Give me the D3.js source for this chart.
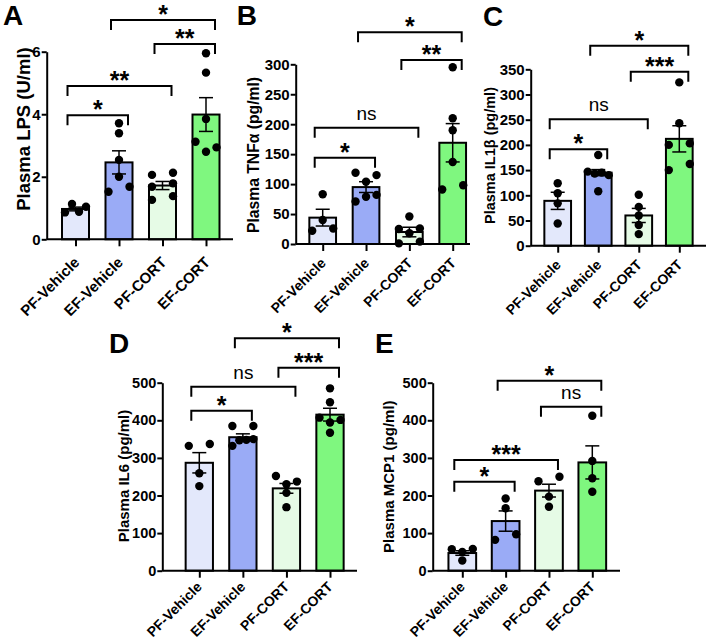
<!DOCTYPE html>
<html>
<head>
<meta charset="utf-8">
<script src="https://cdn.jsdelivr.net/npm/d3@7/dist/d3.min.js"></script>
<style>
  html, body { margin: 0; padding: 0; background: #fff; }
  svg { display: block; font-family: "Liberation Sans", Arial, Helvetica, sans-serif; }
</style>
</head>
<body>
<svg id="chart" width="708" height="644"></svg>
<script>
// ---------------- DATA ----------------
const categories = ["PF-Vehicle", "EF-Vehicle", "PF-CORT", "EF-CORT"];

const lpsMean = [0.97, 2.46, 1.72, 3.99];
const lpsSem = [0.06, 0.37, 0.13, 0.54];
const lpsPoints = [[0.86, 1.13, 0.88, 1.04], [3.71, 3.39, 2.54, 2.0, 1.52, 1.68], [2.06, 2.13, 1.68, 1.79, 1.26, 1.38], [5.95, 5.33, 3.85, 3.12, 2.8, 2.94]];
const lpsTicks = [0, 2, 4, 6];
const lpsSig = [[1, 3, "*"], [2, 3, "**"], [0, 2, "**"], [0, 1, "*"]];

const tnfMean = [44, 95, 20, 169];
const tnfSem = [14, 9, 8, 32];
const tnfPoints = [[83, 40, 22, 26], [119, 104, 115, 71, 79, 82], [46, 25, 18, 26, 1, 4], [295, 210, 190, 137, 91, 98]];
const tnfTicks = [0, 50, 100, 150, 200, 250, 300];
const tnfSig = [[1, 3, "*"], [2, 3, "**"], [0, 2, "ns"], [0, 1, "*"]];

const il1Mean = [89, 145, 60, 212];
const il1Sem = [17, 6, 14, 26];
const il1Points = [[124, 104, 84, 44], [180, 147, 143, 145, 140, 108], [101, 77, 60, 41, 23], [324, 243, 200, 203, 150, 162]];
const il1Ticks = [0, 50, 100, 150, 200, 250, 300, 350];
const il1Sig = [[1, 3, "*"], [2, 3, "***"], [0, 2, "ns"], [0, 1, "*"]];

const il6Mean = [287, 355, 219, 415];
const il6Sem = [27, 9, 13, 17];
const il6Points = [[332, 337, 259, 225], [385, 385, 332, 347, 348, 350], [252, 230, 237, 207, 169], [485, 448, 407, 394, 401, 367]];
const il6Ticks = [0, 100, 200, 300, 400, 500];
const il6Sig = [[1, 3, "*"], [2, 3, "***"], [0, 2, "ns"], [0, 1, "*"]];

const mcpMean = [47, 132, 213, 288];
const mcpSem = [6, 27, 17, 44];
const mcpPoints = [[57, 50, 58, 27], [192, 166, 82, 97], [238, 250, 197, 170], [412, 292, 246, 210]];
const mcpTicks = [0, 100, 200, 300, 400, 500];
const mcpSig = [[1, 3, "*"], [2, 3, "ns"], [0, 2, "***"], [0, 1, "*"]];

// ---------------- LAYOUT / STYLE ----------------
const barColors = ["#e3e8fb", "#9aabf6", "#e6fbe6", "#7ff77f"];

const panels = [
  { letter: "A", title: "Plasma LPS (U/ml)", mean: lpsMean, sem: lpsSem, points: lpsPoints, ticks: lpsTicks, sig: lpsSig,
    x0: 46.7, xEnd: 233, y0: 239.3, yTop: 51.7, c0: 75.5, c3: 206, bw: 27,
    titleX: 23, titleY: 129, titleSize: 18.5, letterX: 3, letterY: 25, tickSize: 15, labSize: 15, labDx: 4.5, labDy: 24,
    levels: [7.01, 6.25, 4.90, 3.97] },
  { letter: "B", title: "Plasma TNF\u03b1 (pg/ml)", mean: tnfMean, sem: tnfSem, points: tnfPoints, ticks: tnfTicks, sig: tnfSig,
    x0: 295.7, xEnd: 470, y0: 244, yTop: 64.3, c0: 322.7, c3: 452.7, bw: 26.7,
    titleX: 253, titleY: 155, titleSize: 15.7, letterX: 236.7, letterY: 25, tickSize: 15, labSize: 14, labDx: 3.5, labDy: 20,
    levels: [353.4, 307, 194, 144] },
  { letter: "C", title: "Plasma IL1\u03b2 (pg/ml)", mean: il1Mean, sem: il1Sem, points: il1Points, ticks: il1Ticks, sig: il1Sig,
    x0: 530.7, xEnd: 706, y0: 245.7, yTop: 69.3, c0: 557.7, c3: 679.3, bw: 26.7,
    titleX: 489.5, titleY: 155.5, titleSize: 14.5, letterX: 483, letterY: 26, tickSize: 15, labSize: 14, labDx: 3.5, labDy: 20,
    levels: [396.8, 345, 250.8, 191.3] },
  { letter: "D", title: "Plasma IL6 (pg/ml)", mean: il6Mean, sem: il6Sem, points: il6Points, ticks: il6Ticks, sig: il6Sig,
    x0: 162.3, xEnd: 357, y0: 570.7, yTop: 382.7, c0: 199.3, c3: 330, bw: 27.3,
    titleX: 123, titleY: 476, titleSize: 15, letterX: 109, letterY: 353, tickSize: 14.5, labSize: 14, labDx: 3, labDy: 17,
    levels: [618, 540, 489, 425.5] },
  { letter: "E", title: "Plasma MCP1 (pg/ml)", mean: mcpMean, sem: mcpSem, points: mcpPoints, ticks: mcpTicks, sig: mcpSig,
    x0: 432.7, xEnd: 620, y0: 570.7, yTop: 382.7, c0: 462.3, c3: 592.3, bw: 27.7,
    titleX: 388, titleY: 476.7, titleSize: 15, letterX: 375, letterY: 353, tickSize: 14.5, labSize: 14, labDx: 3, labDy: 17,
    levels: [505.3, 436, 294.4, 236.7] }
];

const svg = d3.select("#chart");
const R = 4.2;          // dot radius
const GAP = 8.2;        // px distance below which dots are spread sideways
const SPREAD = 10.5;    // half-width of a spread cluster

function spreadOffsets(vals, y) {
  const items = vals.map((v, i) => ({ v, i, py: y(v) }));
  const sorted = items.slice().sort((a, b) => b.py - a.py);
  const clusters = [];
  let cur = [];
  sorted.forEach((it, k) => {
    if (k > 0 && Math.abs(sorted[k - 1].py - it.py) >= GAP) { clusters.push(cur); cur = []; }
    cur.push(it);
  });
  if (cur.length) clusters.push(cur);
  const off = new Array(vals.length).fill(0);
  clusters.forEach(cl => {
    cl.sort((a, b) => a.i - b.i);
    const n = cl.length;
    cl.forEach((it, k) => { off[it.i] = n === 1 ? 0 : -SPREAD + 2 * SPREAD * k / (n - 1); });
  });
  return off;
}

panels.forEach(p => {
  const yMax = p.ticks[p.ticks.length - 1];
  const y = d3.scaleLinear().domain([0, yMax]).range([p.y0, p.yTop]);
  const x = d3.scalePoint().domain(categories).range([p.c0, p.c3]);
  const g = svg.append("g");

  // Bars
  g.selectAll("rect.bar").data(p.mean).join("rect")
    .attr("x", (d, i) => x(categories[i]) - p.bw / 2)
    .attr("y", d => y(d))
    .attr("width", p.bw)
    .attr("height", d => p.y0 - y(d))
    .attr("fill", (d, i) => barColors[i])
    .attr("stroke", "#000").attr("stroke-width", 2);

  // Error bars (SEM)
  const eb = g.selectAll("g.err").data(p.mean).join("g");
  eb.append("line")
    .attr("x1", (d, i) => x(categories[i])).attr("x2", (d, i) => x(categories[i]))
    .attr("y1", (d, i) => y(d - p.sem[i])).attr("y2", (d, i) => y(d + p.sem[i]))
    .attr("stroke", "#000").attr("stroke-width", 1.5);
  [-1, 1].forEach(s => {
    eb.append("line")
      .attr("x1", (d, i) => x(categories[i]) - 7).attr("x2", (d, i) => x(categories[i]) + 7)
      .attr("y1", (d, i) => y(d + s * p.sem[i])).attr("y2", (d, i) => y(d + s * p.sem[i]))
      .attr("stroke", "#000").attr("stroke-width", 1.5);
  });

  // Individual points
  p.points.forEach((vals, gi) => {
    const off = spreadOffsets(vals, y);
    g.selectAll(null).data(vals).join("circle")
      .attr("cx", (d, k) => x(categories[gi]) + off[k])
      .attr("cy", d => y(d))
      .attr("r", R).attr("fill", "#000");
  });

  // Y axis
  const ya = g.append("g").attr("transform", `translate(${p.x0},0)`)
    .call(d3.axisLeft(y).tickValues(p.ticks).tickFormat(d3.format("d")).tickSize(5).tickSizeOuter(0).tickPadding(1));
  ya.select(".domain").attr("stroke-width", 2);
  ya.selectAll(".tick line").attr("stroke-width", 2);
  ya.selectAll(".tick text").attr("font-size", p.tickSize).attr("font-weight", "bold").attr("fill", "#000")
    .attr("font-family", "Liberation Sans, Arial, sans-serif");

  // X axis
  const xa = g.append("g").attr("transform", `translate(0,${p.y0})`)
    .call(d3.axisBottom(x).tickSize(7).tickSizeOuter(0));
  xa.select(".domain").attr("d", `M${p.x0},0H${p.xEnd}`).attr("stroke-width", 2);
  xa.selectAll(".tick line").attr("stroke-width", 2);
  xa.selectAll(".tick text")
    .attr("x", 0).attr("y", 0).attr("dy", 0)
    .attr("transform", `translate(${p.labDx},${p.labDy}) rotate(-45)`)
    .attr("text-anchor", "end")
    .attr("font-size", p.labSize).attr("font-weight", "bold").attr("fill", "#000")
    .attr("font-family", "Liberation Sans, Arial, sans-serif");

  // Y title
  g.append("text")
    .attr("transform", `translate(${p.titleX},${p.titleY}) rotate(-90)`)
    .attr("text-anchor", "middle").attr("dominant-baseline", "central")
    .attr("font-size", p.titleSize).attr("font-weight", "bold")
    .text(p.title);

  // Panel letter
  g.append("text").attr("x", p.letterX).attr("y", p.letterY)
    .attr("font-size", 28).attr("font-weight", "bold").text(p.letter);

  // Significance brackets
  p.sig.forEach((s, k) => {
    const xl = x(categories[s[0]]) - 8;
    const xr = x(categories[s[1]]) + 9;
    const yl = y(p.levels[k]);
    g.append("path")
      .attr("d", `M${xl},${yl + 10}V${yl}H${xr}V${yl + 10}`)
      .attr("fill", "none").attr("stroke", "#000").attr("stroke-width", 2);
    const isNs = s[2] === "ns";
    g.append("text")
      .attr("x", (xl + xr) / 2)
      .attr("y", isNs ? yl - 8 : yl + 3)
      .attr("text-anchor", "middle")
      .attr("font-size", isNs ? 19 : 25)
      .attr("font-weight", isNs ? "normal" : "bold")
      .text(s[2]);
  });
});
</script>
</body>
</html>
